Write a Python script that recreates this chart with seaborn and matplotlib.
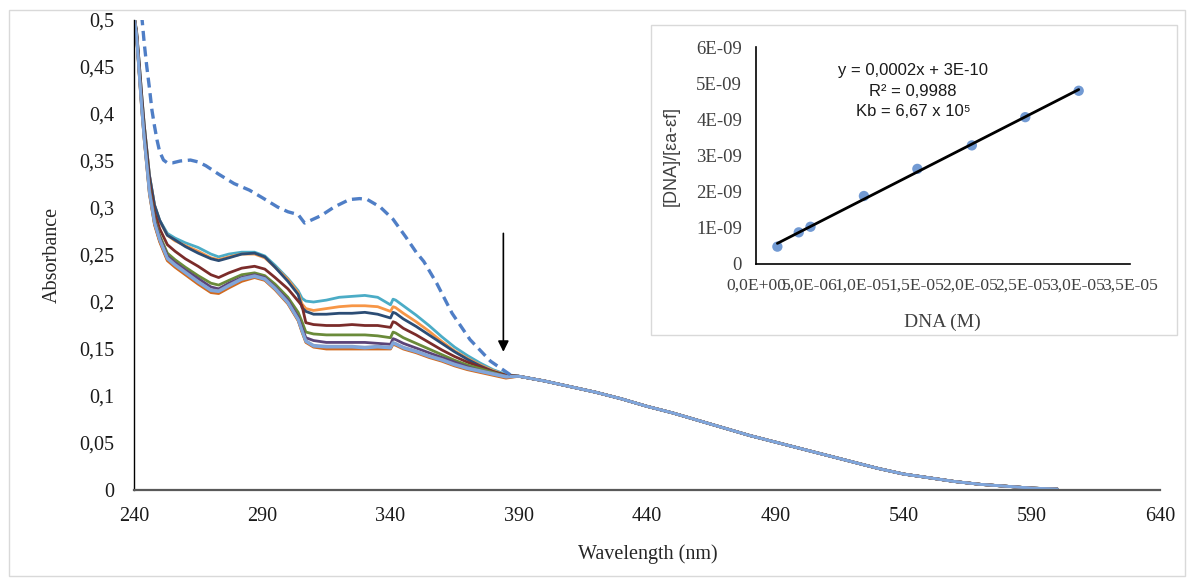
import numpy as np
import pandas as pd
import matplotlib
matplotlib.use("Agg")
import matplotlib.pyplot as plt
import seaborn as sns
from matplotlib.patches import Rectangle

# ---------------- data ----------------
head_wl = [240, 241, 242, 243, 244, 246, 248, 250, 253, 256, 260, 265, 270, 273, 277, 282,
           287, 291, 295, 300, 304, 305.5, 307, 310, 315, 320, 325, 330, 335, 340, 341, 342,
           345, 350, 355, 360, 365, 370, 375, 380, 385]
tail_wl = [390, 400, 410, 420, 430, 440, 450, 460, 470, 480, 490, 500, 510, 520, 530, 540,
           550, 560, 570, 580, 590, 600]
tail_abs = [0.121, 0.116, 0.110, 0.104, 0.097, 0.089, 0.082, 0.074, 0.066, 0.058, 0.051,
            0.044, 0.037, 0.030, 0.023, 0.017, 0.013, 0.009, 0.006, 0.004, 0.002, 0.001]

cyan = [0.505, 0.488, 0.455, 0.420, 0.388, 0.335, 0.303, 0.287, 0.273, 0.268, 0.263, 0.258, 0.251, 0.248, 0.251, 0.253, 0.253, 0.249, 0.239, 0.225, 0.212, 0.204, 0.201, 0.200, 0.202, 0.205, 0.206, 0.207, 0.205, 0.197, 0.203, 0.202, 0.196, 0.186, 0.175, 0.163, 0.152, 0.143, 0.135, 0.128, 0.123]
orange = [0.505, 0.488, 0.455, 0.420, 0.388, 0.335, 0.303, 0.286, 0.271, 0.265, 0.260, 0.254, 0.247, 0.245, 0.248, 0.251, 0.251, 0.247, 0.237, 0.224, 0.210, 0.198, 0.193, 0.191, 0.193, 0.195, 0.196, 0.196, 0.195, 0.190, 0.195, 0.194, 0.188, 0.179, 0.169, 0.158, 0.148, 0.140, 0.133, 0.127, 0.122]
dblue = [0.505, 0.488, 0.455, 0.420, 0.388, 0.335, 0.303, 0.287, 0.271, 0.266, 0.259, 0.252, 0.246, 0.244, 0.247, 0.251, 0.252, 0.248, 0.237, 0.222, 0.208, 0.194, 0.190, 0.187, 0.187, 0.188, 0.188, 0.189, 0.187, 0.183, 0.189, 0.188, 0.182, 0.174, 0.165, 0.156, 0.147, 0.139, 0.132, 0.126, 0.122]
dred = [0.505, 0.486, 0.450, 0.414, 0.382, 0.328, 0.295, 0.278, 0.261, 0.254, 0.246, 0.238, 0.229, 0.226, 0.231, 0.236, 0.238, 0.235, 0.226, 0.214, 0.201, 0.196, 0.178, 0.176, 0.175, 0.175, 0.176, 0.175, 0.175, 0.173, 0.179, 0.178, 0.172, 0.165, 0.157, 0.149, 0.142, 0.136, 0.131, 0.126, 0.122]
green = [0.505, 0.484, 0.447, 0.410, 0.378, 0.322, 0.289, 0.271, 0.252, 0.245, 0.237, 0.228, 0.220, 0.218, 0.223, 0.229, 0.231, 0.228, 0.219, 0.205, 0.189, 0.179, 0.168, 0.166, 0.165, 0.165, 0.165, 0.165, 0.164, 0.162, 0.168, 0.167, 0.162, 0.156, 0.150, 0.144, 0.138, 0.133, 0.129, 0.125, 0.121]
purple = [0.505, 0.484, 0.446, 0.409, 0.376, 0.320, 0.287, 0.269, 0.249, 0.242, 0.234, 0.225, 0.216, 0.214, 0.220, 0.226, 0.229, 0.226, 0.216, 0.202, 0.184, 0.173, 0.162, 0.159, 0.157, 0.157, 0.157, 0.157, 0.156, 0.155, 0.161, 0.160, 0.156, 0.151, 0.146, 0.141, 0.136, 0.131, 0.127, 0.124, 0.121]
dorange = [0.505, 0.482, 0.443, 0.405, 0.372, 0.315, 0.282, 0.264, 0.244, 0.237, 0.229, 0.219, 0.210, 0.209, 0.215, 0.222, 0.226, 0.223, 0.213, 0.198, 0.180, 0.168, 0.157, 0.152, 0.150, 0.150, 0.150, 0.150, 0.150, 0.150, 0.155, 0.154, 0.150, 0.146, 0.141, 0.137, 0.132, 0.128, 0.125, 0.122, 0.119]
teal = [0.505, 0.483, 0.444, 0.406, 0.373, 0.316, 0.283, 0.265, 0.245, 0.238, 0.230, 0.220, 0.211, 0.210, 0.216, 0.223, 0.227, 0.224, 0.214, 0.199, 0.181, 0.169, 0.158, 0.153, 0.151, 0.151, 0.151, 0.151, 0.151, 0.151, 0.156, 0.155, 0.151, 0.147, 0.142, 0.138, 0.133, 0.129, 0.126, 0.123, 0.120]
grayblue = [0.505, 0.483, 0.445, 0.407, 0.374, 0.318, 0.285, 0.267, 0.247, 0.240, 0.232, 0.222, 0.213, 0.212, 0.218, 0.225, 0.228, 0.225, 0.215, 0.200, 0.182, 0.170, 0.159, 0.154, 0.153, 0.153, 0.153, 0.152, 0.153, 0.152, 0.157, 0.156, 0.152, 0.148, 0.143, 0.139, 0.134, 0.130, 0.127, 0.124, 0.121]
lblue = [0.505, 0.483, 0.444, 0.406, 0.373, 0.317, 0.284, 0.266, 0.246, 0.239, 0.231, 0.221, 0.212, 0.211, 0.217, 0.224, 0.227, 0.224, 0.214, 0.199, 0.181, 0.169, 0.158, 0.153, 0.152, 0.152, 0.152, 0.151, 0.152, 0.151, 0.156, 0.155, 0.151, 0.147, 0.142, 0.138, 0.133, 0.129, 0.126, 0.123, 0.120]

series_names = ["teal", "cyan", "orange", "dblue", "dred", "green", "purple",
                "dorange", "grayblue", "lblue"]
series_vals = [teal, cyan, orange, dblue, dred, green, purple, dorange, grayblue, lblue]
series_colors = ["#2E7F8F", "#4BACC6", "#F79646", "#2C4D75", "#7B2C2A", "#6A8B3A",
                 "#5B4478", "#D26A1E", "#8AA2C8", "#7FA6DC"]

free_wl = [243, 244, 245, 246, 247, 248, 249, 250, 251.5, 253, 255, 258, 262, 265, 268, 273,
           279, 285, 290, 296, 300, 304, 306.5, 309, 313, 318, 324, 328, 331, 336, 341, 346,
           350, 353, 358, 364, 371, 379, 387]
free_abs = [0.505, 0.475, 0.450, 0.428, 0.404, 0.387, 0.372, 0.360, 0.351, 0.348, 0.348,
            0.350, 0.351, 0.349, 0.345, 0.336, 0.326, 0.319, 0.311, 0.301, 0.296, 0.293,
            0.284, 0.287, 0.292, 0.301, 0.309, 0.310, 0.309, 0.301, 0.288, 0.269, 0.253,
            0.243, 0.220, 0.188, 0.160, 0.137, 0.122]

main_xticks = [240, 290, 340, 390, 440, 490, 540, 590, 640]
main_yticks = [0, 0.05, 0.1, 0.15, 0.2, 0.25, 0.3, 0.35, 0.4, 0.45, 0.5]
main_ylabels = ["0", "0,05", "0,1", "0,15", "0,2", "0,25", "0,3", "0,35", "0,4", "0,45", "0,5"]

dna = [2.0e-6, 4.0e-6, 5.1e-6, 10.1e-6, 15.1e-6, 20.2e-6, 25.2e-6, 30.2e-6]
ratio = [0.48e-9, 0.875e-9, 1.03e-9, 1.88e-9, 2.63e-9, 3.28e-9, 4.06e-9, 4.79e-9]
ins_xticks = [0, 5e-6, 1e-5, 1.5e-5, 2e-5, 2.5e-5, 3e-5, 3.5e-5]
ins_xlabels = ["0,0E+00", "5,0E-06", "1,0E-05", "1,5E-05", "2,0E-05", "2,5E-05", "3,0E-05", "3,5E-05"]
ins_yticks = [0, 1e-9, 2e-9, 3e-9, 4e-9, 5e-9, 6e-9]
ins_ylabels = ["0", "1E-09", "2E-09", "3E-09", "4E-09", "5E-09", "6E-09"]

# ---------------- build table ----------------
rows = []
for name, vals in zip(series_names, series_vals):
    for w, a in zip(head_wl + tail_wl, vals + tail_abs):
        rows.append((name, w, a))
df = pd.DataFrame(rows, columns=["series", "wl", "abs"])
df_free = pd.DataFrame({"wl": free_wl, "abs": free_abs})
df_ins = pd.DataFrame({"dna": dna, "ratio": ratio})

# ---------------- style ----------------
sns.set_style("white")
plt.rcParams["font.family"] = ["Liberation Serif", "DejaVu Serif"]

W, H = 1192, 581
fig = plt.figure(figsize=(W / 100, H / 100), dpi=100)
fig.patch.set_facecolor("white")
fig.patches.append(Rectangle((9 / W, 1 - 576 / H), (1185 - 9) / W, (576 - 10) / H,
                             transform=fig.transFigure, fill=False,
                             edgecolor="#D9D9D9", lw=1.0))

ax = fig.add_axes([134 / W, 1 - 490 / H, (1160 - 134) / W, (490 - 20) / H])
pal = dict(zip(series_names, series_colors))
sns.lineplot(data=df, x="wl", y="abs", hue="series", hue_order=series_names,
             palette=pal, estimator=None, sort=False, lw=2.0, legend=False, ax=ax)
sns.lineplot(data=df_free, x="wl", y="abs", color="#4F7EC6", lw=2.4,
             estimator=None, sort=False, ax=ax, dashes=False)
ax.lines[-1].set_dashes((3.0, 1.7))

ax.set_xlim(240, 640)
ax.set_ylim(0, 0.5)
ax.set_xticks(main_xticks)
ax.set_xticklabels([str(t) for t in main_xticks])
ax.set_yticks(main_yticks)
ax.set_yticklabels(main_ylabels)
ax.tick_params(axis="both", length=0, labelsize=14.5, colors="#1a1a1a")
ax.tick_params(axis="x", pad=12)
ax.tick_params(axis="y", pad=14)
for s in ["top", "right"]:
    ax.spines[s].set_visible(False)
ax.spines["left"].set_color("black")
ax.spines["left"].set_linewidth(1.0)
ax.spines["bottom"].set_color("#595959")
ax.spines["bottom"].set_linewidth(1.6)
ax.set_xlabel("Wavelength (nm)", fontsize=14.5)
ax.set_ylabel("Absorbance", fontsize=14.5)
ax.xaxis.set_label_coords(0.501, -0.115)
ax.yaxis.set_label_coords(-0.070, 0.5)

ax.annotate("", xy=(384, 0.147), xytext=(384, 0.273),
            arrowprops=dict(arrowstyle="-|>", color="black", lw=1.2,
                            mutation_scale=16, shrinkA=0, shrinkB=0))

# ---------------- inset ----------------
fig.patches.append(Rectangle((651 / W, 1 - 335 / H), (1177 - 651) / W, (335 - 25) / H,
                             transform=fig.transFigure, facecolor="white",
                             edgecolor="#D9D9D9", lw=1.0, zorder=5))
ins = fig.add_axes([756 / W, 1 - 264 / H, (1130 - 756) / W, (264 - 47) / H])
ins.set_zorder(10)
ins.patch.set_alpha(0)
sns.regplot(data=df_ins, x="dna", y="ratio", ci=None, truncate=True, ax=ins,
            scatter_kws=dict(s=55, color="#4F81C8", edgecolor="none", zorder=3),
            line_kws=dict(color="black", lw=2.0, zorder=4))
ins.set_xlim(0, 3.5e-5)
ins.set_ylim(0, 6e-9)
ins.set_xticks(ins_xticks)
ins.set_xticklabels(ins_xlabels)
ins.set_yticks(ins_yticks)
ins.set_yticklabels(ins_ylabels)
ins.tick_params(axis="y", length=0, labelsize=13.5, colors="#404040", pad=10)
ins.tick_params(axis="x", length=0, labelsize=12.6, colors="#404040", pad=10)
for s in ["top", "right"]:
    ins.spines[s].set_visible(False)
for s in ["left", "bottom"]:
    ins.spines[s].set_color("black")
    ins.spines[s].set_linewidth(1.2)
ins.set_xlabel("DNA (M)", fontsize=14, color="#404040")
ins.set_ylabel("[DNA]/[εa-εf]", fontsize=13, color="#404040",
               family=["Liberation Sans", "DejaVu Sans"])
ins.xaxis.set_label_coords(0.497, -0.23)
ins.yaxis.set_label_coords(-0.205, 0.5)

sans = ["Liberation Sans", "DejaVu Sans"]
for yy, txt in [(0.892, "y = 0,0002x + 3E-10"), (0.797, "R² = 0,9988"),
                (0.705, "Kb = 6,67 x 10⁵")]:
    ins.text(0.42, yy, txt, transform=ins.transAxes, ha="center", va="center",
             fontsize=12, family=sans, color="#1a1a1a")

fig.savefig("out.png", dpi=100, facecolor="white")
